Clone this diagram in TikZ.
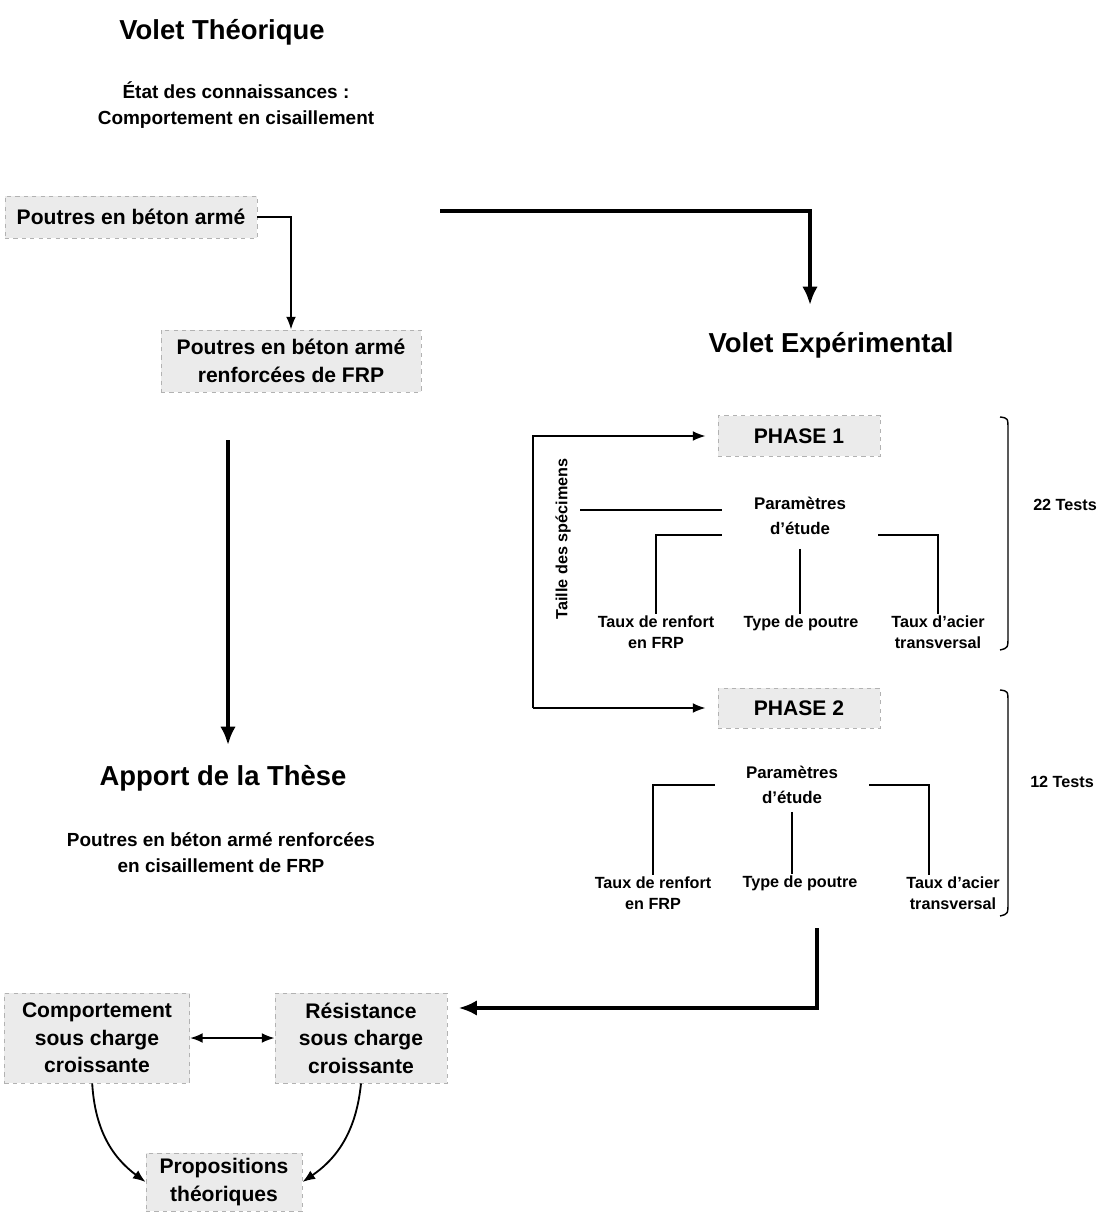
\documentclass[tikz,border=0pt]{standalone}
\usepackage{fontspec}
\setmainfont{Liberation Sans}
\usetikzlibrary{arrows.meta,positioning,calc}

\tikzset{
  titre/.style={font=\fontsize{19.5}{23}\selectfont\bfseries},
  texte/.style={font=\fontsize{13.5}{18.5}\selectfont\bfseries, align=center},
  petit/.style={font=\fontsize{11.5}{15}\selectfont\bfseries, align=center, inner sep=1pt},
  param/.style={font=\fontsize{12}{17.5}\selectfont\bfseries, align=center, inner sep=0pt},
  boite/.style={fill=gray!16, draw=gray!60, dashed, line width=0.6pt,
    font=\fontsize{15}{19.5}\selectfont\bfseries, align=center, inner sep=2pt},
  fleche/.style={line width=1.3pt, -{Latex[length=9pt,width=7pt]}},
  grossefleche/.style={line width=2.6pt, -{Latex[length=13pt,width=11pt]}},
  trait/.style={line width=1pt}
}

\begin{document}
\begin{tikzpicture}[x=0.025cm,y=-0.025cm]
\useasboundingbox (0,0) rectangle (1101,1215);

% Define coordinates
\coordinate (t1) at (440,211);
\coordinate (t2) at (810,305);
\coordinate (d1) at (228,440);
\coordinate (d2) at (228,745);
\coordinate (boucle) at (533,708);
\coordinate (l1) at (580,510);
\coordinate (b1) at (817,928);

% Volet theorique
\node[titre] (vtheo) at (222,32) {Volet Théorique};
\node[texte] (etat) at (236,105) {État des connaissances :\\Comportement en cisaillement};
\node[boite, minimum width=6.3cm, minimum height=1.05cm] (pba) at (131,217) {Poutres en béton armé};
\node[boite, minimum width=6.5cm, minimum height=1.55cm] (pbafrp) at (291,361) {Poutres en béton armé\\renforcées de FRP};

% Apport de la these
\node[titre] (apport) at (223,778) {Apport de la Thèse};
\node[texte] (contrib) at (221,853) {Poutres en béton armé renforcées\\en cisaillement de FRP};

% Volet experimental
\node[titre] (vexp) at (831,345) {Volet Expérimental};
\node[boite, minimum width=4.05cm, minimum height=1.02cm] (ph1) at (799,436) {PHASE 1};
\node[boite, minimum width=4.05cm, minimum height=1.0cm] (ph2) at (799,708) {PHASE 2};
\node[petit, rotate=90] (taille) at (563,539) {Taille des spécimens};

% Phase 1
\node[param, text width=3.9cm] (par1) at (800,516) {Paramètres\\d'étude};
\node[petit] (renf1) at (656,632) {Taux de renfort\\en FRP};
\node[petit] (type1) at (801,623) {Type de poutre};
\node[petit] (acier1) at (938,632) {Taux d'acier\\transversal};
\node[petit] (tests1) at (1065,505) {22 Tests};

% Phase 2
\node[param, text width=3.85cm] (par2) at (792,785) {Paramètres\\d'étude};
\node[petit] (renf2) at (653,893) {Taux de renfort\\en FRP};
\node[petit] (type2) at (800,883) {Type de poutre};
\node[petit] (acier2) at (953,893) {Taux d'acier\\transversal};
\node[petit] (tests2) at (1062,782) {12 Tests};

% Bottom boxes
\node[boite, minimum width=4.63cm, minimum height=2.25cm] (comp) at (97,1038) {Comportement\\sous charge\\croissante};
\node[boite, minimum width=4.3cm, minimum height=2.25cm] (res) at (361,1038) {Résistance\\sous charge\\croissante};
\node[boite, minimum width=3.9cm, minimum height=1.45cm] (prop) at (224,1182) {Propositions\\théoriques};

% Draw the arrows
\draw[fleche] (pba.east) -| (pbafrp.north);
\draw[grossefleche] (t1) -| (t2);
\draw[grossefleche] (d1) -- (d2);
\draw[fleche, shorten >=0.3cm] (boucle) |- (ph1.west);
\draw[fleche, shorten >=0.3cm] (boucle) -- (ph2.west);
\draw[grossefleche, shorten >=0.28cm] (b1) |- ([yshift=0.75cm]res.east);
\draw[fleche, {Latex[length=9pt,width=7pt]}-{Latex[length=9pt,width=7pt]}] (comp.east) -- (res.west);
\draw[fleche] ([xshift=-0.12cm]comp.south) to[bend right=25] (prop.west);
\draw[fleche] (res.south) to[bend left=25] (prop.east);

% Draw the trees
\draw[trait] (l1) -- (l1 -| par1.west);
\draw[trait] (par1.south west) -| (renf1.north);
\draw[trait] ([yshift=-0.35cm]par1.south) -- (par1.south |- type1.north);
\draw[trait] (par1.south east) -| (acier1.north);
\draw[trait] (par2.west) -| (renf2.north);
\draw[trait] ([yshift=-0.2cm]par2.south) -- (par2.south |- type2.north);
\draw[trait] (par2.east) -| ([xshift=-0.6cm]acier2.north);

% Draw the braces
\draw[trait] (1000,417) .. controls (1008,418) .. (1008,430) -- (1008,636) .. controls (1008,648) .. (1000,650);
\draw[trait] (1000,690) .. controls (1008,691) .. (1008,703) -- (1008,902) .. controls (1008,914) .. (1000,916);

\end{tikzpicture}
\end{document}
